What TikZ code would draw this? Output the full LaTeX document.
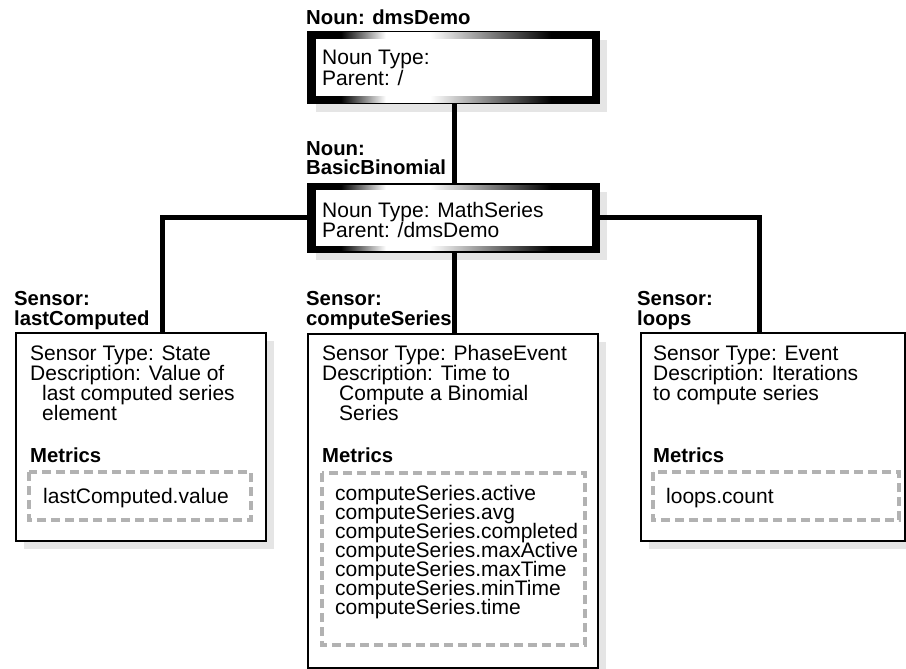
\documentclass[tikz,border=0pt]{standalone}
\usepackage{fontspec}
\setmainfont{Liberation Sans}
\usetikzlibrary{shadows}
\definecolor{shadowgray}{gray}{0.9}
\definecolor{dashgray}{gray}{0.7}
\pgfdeclarehorizontalshading{nounframe}{100bp}{color(0bp)=(black); color(30.7bp)=(black); color(38.4bp)=(white); color(46bp)=(white); color(66.8bp)=(black); color(100bp)=(black)}
\begin{document}
\begin{tikzpicture}[x=1pt,y=-1pt,
  txt/.style={font=\fontsize{21}{20}\selectfont, inner sep=0pt, anchor=base west},
  btxt/.style={font=\fontsize{20.3}{20}\selectfont\bfseries, inner sep=0pt, anchor=base west},
  shadowed/.style={drop shadow={shadow xshift=8pt, shadow yshift=-8pt, fill=shadowgray, opacity=1}},
  nounbox/.style={shadowed, draw=black, line width=1.5pt, shading=nounframe, anchor=north west, inner sep=0pt, minimum width=291pt},
  sensorbox/.style={shadowed, draw=black, line width=2pt, fill=white, anchor=north west, inner sep=0pt},
  metricbox/.style={draw=dashgray, line width=4pt, dash pattern=on 9pt off 5pt},
  conn/.style={line width=5pt, draw=black}]
\useasboundingbox (0,0) rectangle (906,669);

% noun boxes
\node[nounbox, minimum height=72pt] (nb1) at (307,31) {};
\fill[white] ([shift={(9,8)}]nb1.north west) rectangle ([shift={(-8,-8)}]nb1.south east);
\node[nounbox, minimum height=68pt] (nb2) at (307,183) {};
\fill[white] ([shift={(9,7)}]nb2.north west) rectangle ([shift={(-8,-7)}]nb2.south east);

% sensor boxes
\node[sensorbox, minimum width=250pt, minimum height=208pt] (lc) at (15,332) {};
\node[sensorbox, minimum width=290pt, minimum height=334pt] (cs) at (307,333) {};
\node[sensorbox, minimum width=264pt, minimum height=208pt] (lp) at (640,332) {};

% connectors
\coordinate (lcin) at ([xshift=21pt]lc.north);
\coordinate (lpin) at ([xshift=-14pt]lp.north);
\coordinate (csin) at (454,0);
\draw[conn] (nb1.south -| csin) -- (nb2.north -| csin);
\draw[conn] (nb2.south -| csin) -- (cs.north -| csin);
\draw[conn] (nb2.west) -| (lcin);
\draw[conn] (nb2.east) -| (lpin);

% labels
\node[btxt] (l1) at (306,25) {Noun: dmsDemo};
\node[btxt] (l2a) at (306,155) {Noun:};
\node[btxt] (l2b) at (306,175) {BasicBinomial};
\node[btxt] (l3a) at (14,305) {Sensor:};
\node[btxt] (l3b) at (14,325) {lastComputed};
\node[btxt] (l4a) at (306,305) {Sensor:};
\node[btxt] (l4b) at (306,325) {computeSeries};
\node[btxt] (l5a) at (637,305) {Sensor:};
\node[btxt] (l5b) at (637,325) {loops};

% noun box texts
\node[txt] (n1a) at (322,65) {Noun Type:};
\node[txt] (n1b) at (322,85) {Parent: /};
\node[txt] (n2a) at (322,217) {Noun Type: MathSeries};
\node[txt] (n2b) at (322,237) {Parent: /dmsDemo};

% lastComputed
\node[txt] (lc1) at (30,360) {Sensor Type: State};
\node[txt] (lc2) at (30,380) {Description: Value of};
\node[txt] (lc3) at (42,400) {last computed series};
\node[txt] (lc4) at (42,420) {element};
\node[btxt] (lcm) at (30,462) {Metrics};
\draw[metricbox] (29,472) rectangle (251,520);
\node[txt] (lcv) at (43,503) {lastComputed.value};

% computeSeries
\node[txt] (cs1) at (322,360) {Sensor Type: PhaseEvent};
\node[txt] (cs2) at (322,380) {Description: Time to};
\node[txt] (cs3) at (339,400) {Compute a Binomial};
\node[txt] (cs4) at (339,420) {Series};
\node[btxt] (csm) at (322,462) {Metrics};
\draw[metricbox] (322,473) rectangle (585,645);
\node[txt] (csv1) at (335,500) {computeSeries.active};
\node[txt] (csv2) at (335,519) {computeSeries.avg};
\node[txt] (csv3) at (335,538) {computeSeries.completed};
\node[txt] (csv4) at (335,557) {computeSeries.maxActive};
\node[txt] (csv5) at (335,576) {computeSeries.maxTime};
\node[txt] (csv6) at (335,595) {computeSeries.minTime};
\node[txt] (csv7) at (335,614) {computeSeries.time};

% loops
\node[txt] (lp1) at (653,360) {Sensor Type: Event};
\node[txt] (lp2) at (653,380) {Description: Iterations};
\node[txt] (lp3) at (653,400) {to compute series};
\node[btxt] (lpm) at (653,462) {Metrics};
\draw[metricbox] (653,472) rectangle (899,520);
\node[txt] (lpv) at (666,503) {loops.count};
\end{tikzpicture}
\end{document}
